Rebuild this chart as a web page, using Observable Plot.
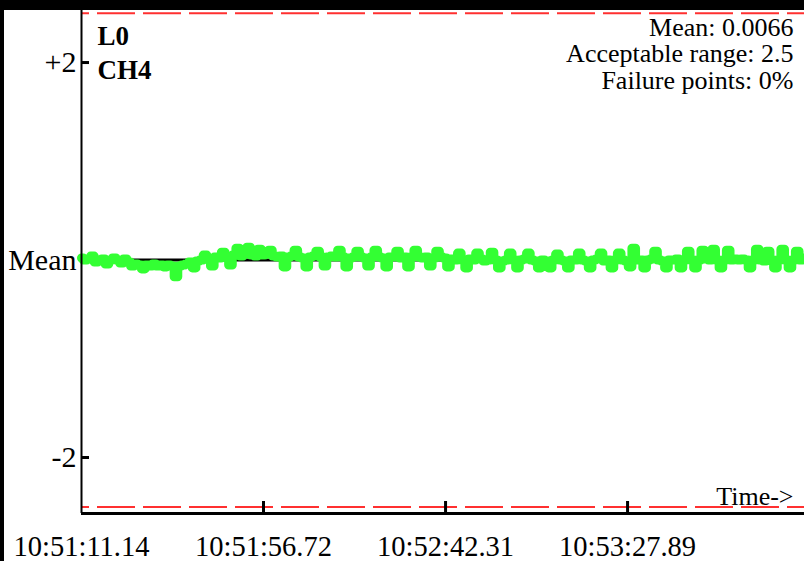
<!DOCTYPE html>
<html><head><meta charset="utf-8">
<script src="https://cdn.jsdelivr.net/npm/d3@7"></script>
<script src="https://cdn.jsdelivr.net/npm/@observablehq/plot@0.6"></script>
<style>
html,body{margin:0;padding:0;background:#fff;}
#wrap{width:800px;height:551px;border-top:10px solid #000;border-left:4px solid #000;background:#fff;}
#wrap svg{display:block;}
</style></head><body><div id="wrap"></div>
<script>
const channelLabel = ["L0", "CH4"];
const infoLines = ["Mean: 0.0066", "Acceptable range: 2.5", "Failure points: 0%"];
const xTickSeconds = [0, 45.58, 91.17, 136.75];
const xTickLabels = ["10:51:11.14", "10:51:56.72", "10:52:42.31", "10:53:27.89"];
const yTickValues = [2, 0, -2];
const yTickLabels = ["+2", "Mean", "-2"];
const limits = [2.5, -2.5];
const axisTitle = "Time->";
const spanSeconds = 181.06;
const yDomain = [-2.567, 2.527];
// deviation from the mean
const deviation = [
  0.02, 0.0, 0.01, 0.04, -0.02, 0.0, 0.01, -0.04, 0.0, 0.02, 0.0, -0.03, 0.01,
  -0.02, -0.06, -0.04, -0.05, -0.09, -0.05, -0.06, -0.04, -0.06, -0.05, -0.07, -0.05, -0.06, -0.17, -0.06, -0.05,
  -0.04, -0.02, -0.08, -0.01, 0.0, 0.05, 0.01, -0.06, 0.03, 0.02, 0.08, 0.03, -0.05,
  0.05, 0.12, 0.04, 0.06, 0.13, 0.05, 0.04, 0.11, 0.05,
  0.06, 0.1, 0.04, 0.03, 0.04, -0.07, 0.03, 0.04, 0.1, 0.03, 0.02, -0.07, 0.03, 0.04, 0.09, 0.03, -0.06, 0.03, 0.04, 0.03,
  0.1, 0.03, -0.07, 0.02, 0.03, 0.09, 0.03, 0.02, -0.06, 0.03, 0.1, 0.03, 0.02, -0.07, 0.03, 0.03, 0.09, 0.02, 0.03, -0.07,
  0.03, 0.1, 0.03, 0.02, 0.03, -0.06, 0.02, 0.09, 0.03, 0.02, -0.07,
  0.01, 0.0, 0.07, 0.0, -0.08, 0.01, 0.0, 0.07, 0.01, -0.01, 0.0, 0.08, 0.0, -0.08, -0.01, 0.0, 0.07, 0.0, -0.08, 0.0,
  0.01, 0.07, 0.0, -0.01, -0.08, 0.0, -0.01, -0.08, 0.0, 0.06, 0.0, -0.01, -0.08, 0.0, 0.0, 0.07, 0.0, -0.01, -0.08, 0.0,
  0.01, 0.07, -0.01, 0.0, -0.08, 0.0, 0.07, 0.0, -0.01, -0.07, 0.12,
  0.0, 0.0, -0.08, 0.0, 0.01, 0.09, 0.0, -0.01, -0.08, 0.0, 0.0, 0.01, -0.08, 0.0, 0.09, 0.0, -0.08, 0.0, 0.1, 0.01,
  0.0, 0.11, 0.0, -0.08, 0.0, 0.1, 0.0, 0.01, 0.0, 0.01, 0.0, -0.08, 0.0, 0.11, 0.0, -0.01, 0.09, 0.0, -0.08, 0.0,
  0.11, 0.0, -0.08, 0.0, 0.09, 0.0, 0.02
];
const step = spanSeconds / (deviation.length - 1);
const series = deviation.map((v, i) => ({t: i * step, v}));
const serif = "'Liberation Serif', 'Times New Roman', serif";

const chart = Plot.plot({
  width: 800, height: 551,
  marginLeft: 77, marginRight: 0, marginTop: 0, marginBottom: 48,
  style: {fontFamily: serif, background: "#fff", color: "#000", overflow: "visible"},
  x: {domain: [0, spanSeconds]},
  y: {domain: yDomain},
  marks: [
    Plot.ruleY(limits, {stroke: "#ff3030", strokeWidth: 2, strokeDasharray: "38,8", strokeDashoffset: 30}),
    Plot.ruleY([0], {stroke: "#000", strokeWidth: 3}),
    Plot.line(series, {x: "t", y: "v", curve: "step", stroke: "#33ff33", strokeWidth: 9, strokeLinejoin: "round", strokeLinecap: "round"}),
    Plot.ruleX([0], {stroke: "#000", strokeWidth: 2}),
    Plot.ruleY([yDomain[0]], {stroke: "#000", strokeWidth: 3}),
    Plot.ruleX(xTickSeconds.slice(1), {stroke: "#000", strokeWidth: 3, insetTop: 491}),
    Plot.ruleY([yTickValues[0], yTickValues[2]], {stroke: "#000", strokeWidth: 3, insetRight: 715}),
    Plot.axisX({ticks: xTickSeconds, tickFormat: (d, i) => xTickLabels[i], tickSize: 0, tickPadding: 22, fontSize: 28.5, fill: "#000", label: null}),
    Plot.axisY({ticks: yTickValues, tickFormat: (d, i) => yTickLabels[i], tickSize: 0, tickPadding: 5, fontSize: 30, fill: "#000", label: null}),
    Plot.text([channelLabel.join("\n")], {frameAnchor: "top-left", textAnchor: "start", lineAnchor: "top", dx: 16, dy: 10, fontSize: 27, fontWeight: "bold", lineHeight: 1.26, fill: "#000"}),
    Plot.text([infoLines.join("\n")], {frameAnchor: "top-right", textAnchor: "end", lineAnchor: "top", dx: -11, dy: 6.5, fontSize: 26, lineHeight: 1.02, fill: "#000"}),
    Plot.text([axisTitle], {frameAnchor: "bottom-right", textAnchor: "end", lineAnchor: "bottom", dx: -11, dy: -9, fontSize: 26, fill: "#000"})
  ]
});
document.getElementById("wrap").appendChild(chart);
</script></body></html>
